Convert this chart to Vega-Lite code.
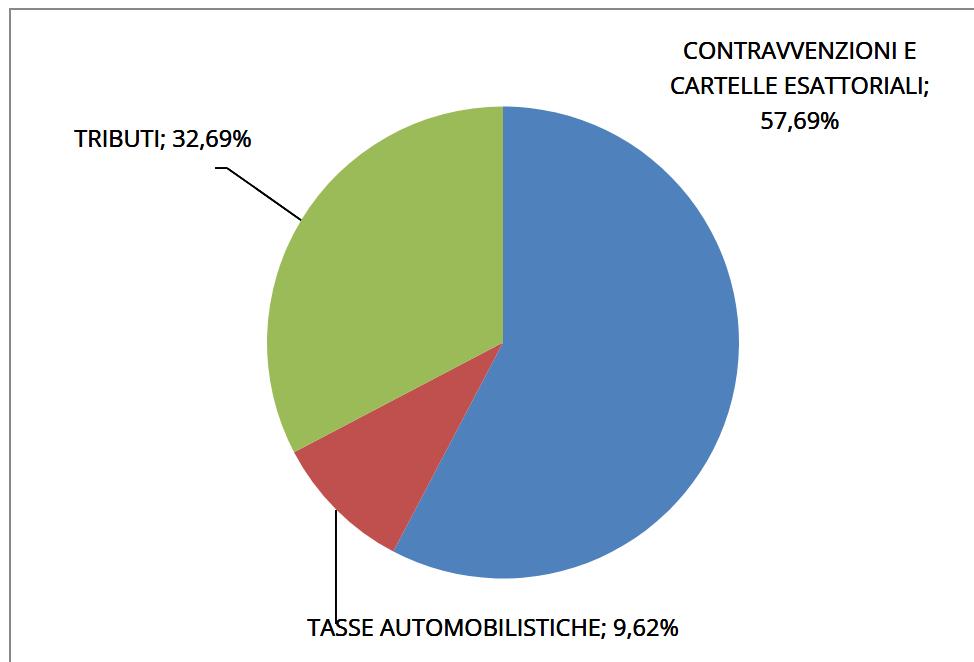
{
  "$schema": "https://vega.github.io/schema/vega-lite/v6.json",
  "width": 974,
  "height": 662,
  "padding": 0,
  "autosize": {"type": "fit", "contains": "padding"},
  "background": "#ffffff",
  "config": {"view": {"stroke": null}, "text": {"font": "Open Sans", "fontSize": 23.5, "fontWeight": "normal", "color": "#000000"}},
  "data": {
    "values": [
      {"category": "CONTRAVVENZIONI E CARTELLE ESATTORIALI", "value": 57.69},
      {"category": "TASSE AUTOMOBILISTICHE", "value": 9.62},
      {"category": "TRIBUTI", "value": 32.69}
    ]
  },
  "encoding": {
    "x": {"type": "quantitative", "scale": {"domain": [-2.1314, 1.9958], "nice": false, "zero": false}, "axis": null},
    "y": {"type": "quantitative", "scale": {"domain": [-1.3538, 1.4513], "nice": false, "zero": false}, "axis": null}
  },
  "layer": [
    {
      "mark": {"type": "rect", "fill": null, "stroke": "#878787", "strokeWidth": 1.5, "clip": true},
      "encoding": {
        "x": {"datum": -2.089},
        "x2": {"datum": 2.2},
        "y": {"datum": 1.413},
        "y2": {"datum": -1.5}
      }
    },
    {
      "mark": {"type": "arc", "outerRadius": 236},
      "encoding": {
        "x": {"datum": 0},
        "y": {"datum": 0},
        "theta": {"field": "value", "type": "quantitative", "stack": true},
        "order": {"field": "category", "sort": "ascending"},
        "color": {
          "field": "category",
          "type": "nominal",
          "scale": {
            "domain": ["CONTRAVVENZIONI E CARTELLE ESATTORIALI", "TASSE AUTOMOBILISTICHE", "TRIBUTI"],
            "range": ["#4F81BD", "#C0504D", "#9BBB59"]
          },
          "legend": null
        }
      }
    },
    {
      "mark": {"type": "rule", "color": "#000000", "strokeWidth": 1.5},
      "encoding": {"x": {"datum": -1.220}, "x2": {"datum": -1.169}, "y": {"datum": 0.739}, "y2": {"datum": 0.739}}
    },
    {
      "mark": {"type": "rule", "color": "#000000", "strokeWidth": 1.5},
      "encoding": {"x": {"datum": -1.169}, "x2": {"datum": -0.856}, "y": {"datum": 0.739}, "y2": {"datum": 0.519}}
    },
    {
      "mark": {"type": "rule", "color": "#000000", "strokeWidth": 1.5},
      "encoding": {"x": {"datum": -0.708}, "x2": {"datum": -0.708}, "y": {"datum": -0.710}, "y2": {"datum": -1.193}}
    },
    {
      "mark": {"type": "text", "align": "center", "baseline": "middle", "lineHeight": 35},
      "encoding": {
        "x": {"datum": 1.258},
        "y": {"datum": 1.229},
        "text": {"value": ["CONTRAVVENZIONI E", "CARTELLE ESATTORIALI;", "57,69%"]}
      }
    },
    {
      "mark": {"type": "text", "align": "center", "baseline": "middle"},
      "encoding": {
        "x": {"datum": -1.441},
        "y": {"datum": 0.858},
        "text": {"value": "TRIBUTI; 32,69%"}
      }
    },
    {
      "mark": {"type": "text", "align": "center", "baseline": "middle"},
      "encoding": {
        "x": {"datum": -0.042},
        "y": {"datum": -1.214},
        "text": {"value": "TASSE AUTOMOBILISTICHE; 9,62%"}
      }
    }
  ]
}
